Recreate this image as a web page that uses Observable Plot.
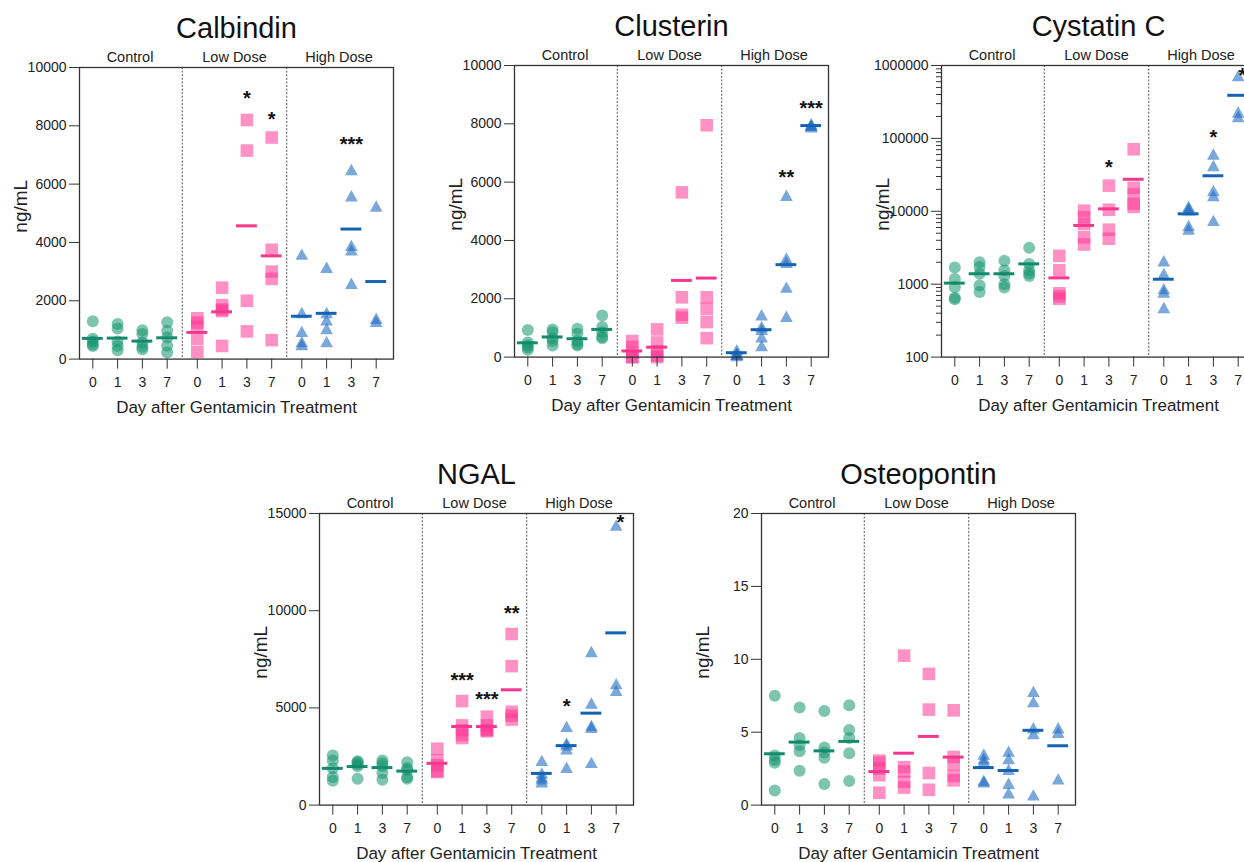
<!DOCTYPE html>
<html>
<head>
<meta charset="utf-8">
<script src="https://cdn.jsdelivr.net/npm/d3@7"></script>
<script src="https://cdn.jsdelivr.net/npm/@observablehq/plot@0.6"></script>
<style>
  html, body { margin: 0; padding: 0; background: #fff; }
  body { width: 1244px; height: 862px; overflow: hidden; position: relative; font-family: "Liberation Sans", Arial, sans-serif; }
  svg { position: absolute; overflow: visible; }
</style>
</head>
<body>
<script>
// ---------- categories ----------
const groups = ["Control", "Low Dose", "High Dose"];
const days = [0, 1, 3, 7];
const xTitle = "Day after Gentamicin Treatment";
const yTitle = "ng/mL";

// ---------- values: 12 lists, order Control d0,d1,d3,d7 | Low d0..d7 | High d0..d7 ----------
const calbindinValues = [
  [1300, 700, 600, 500, 450], [1200, 1050, 600, 450, 300], [990, 860, 570, 420, 340], [1260, 970, 740, 460, 230],
  [1400, 1250, 1100, 700, 250], [2450, 1850, 1700, 1650, 450], [8200, 7150, 2000, 950], [7600, 3750, 3000, 2750, 650],
  [3600, 1600, 950, 600, 500], [3150, 1600, 1350, 1050, 600], [6500, 5600, 3900, 3750, 2600], [5250, 1400, 1300]
];
const calbindinMeans = [710, 720, 617, 730, 915, 1620, 4570, 3540, 1470, 1570, 4460, 2660];
const calbindinStars = [
  {group: "Low Dose", day: 3, value: 9090, label: "*"},
  {group: "Low Dose", day: 7, value: 8380, label: "*"},
  {group: "High Dose", day: 3, value: 7520, label: "***"}
];
const calbindinTicks = [0, 2000, 4000, 6000, 8000, 10000];

const clusterinValues = [
  [930, 500, 400, 330, 250], [950, 850, 650, 550, 400], [970, 800, 550, 450, 400], [1430, 1030, 860, 700, 650],
  [550, 350, 150, 0, 0], [950, 500, 200, 50, 0], [5650, 2050, 1450, 1350], [7950, 2050, 1650, 1200, 650],
  [250, 150, 100, 100, 50], [1450, 1050, 950, 700, 400], [5550, 3400, 3250, 2400, 1400], [8000, 7950, 7950, 7900]
];
const clusterinMeans = [490, 690, 630, 950, 210, 340, 2630, 2710, 150, 940, 3170, 7940];
const clusterinStars = [
  {group: "High Dose", day: 3, value: 6340, label: "**"},
  {group: "High Dose", day: 7, value: 8690, label: "***"}
];
const clusterinTicks = [0, 2000, 4000, 6000, 8000, 10000];

const cystatinValues = [
  [1700, 1180, 910, 650, 620], [2000, 1720, 1390, 960, 780], [2100, 1550, 1300, 1000, 900], [3150, 1900, 1550, 1400, 1300],
  [2450, 1550, 750, 680, 630], [10200, 8300, 6700, 4400, 3500], [22500, 10500, 5600, 4200], [71000, 21000, 17000, 12700, 11500],
  [2100, 1400, 870, 780, 480], [11700, 11000, 10500, 6400, 5700], [61000, 42500, 19300, 16500, 7500], [730000, 230000, 200000]
];
const cystatinMeans = [1035, 1390, 1390, 1900, 1220, 6400, 10800, 27500, 1170, 9230, 30700, 390000];
const cystatinStars = [
  {group: "Low Dose", day: 3, value: 47200, label: "*"},
  {group: "High Dose", day: 3, value: 122000, label: "*"},
  {group: "High Dose", day: 7, value: 850000, label: "*", beside: true}
];
const cystatinTicks = [100, 1000, 10000, 100000, 1000000];

const ngalValues = [
  [2550, 2300, 1900, 1450, 1250], [2250, 2200, 2100, 2000, 1350], [2300, 2150, 2000, 1650, 1300], [2200, 1900, 1800, 1450, 1350],
  [2900, 2300, 2050, 1750, 1700], [5350, 4100, 3850, 3600, 3450], [4550, 4100, 3900, 3850, 3800], [8800, 7150, 4800, 4600, 4400],
  [2300, 1650, 1450, 1350, 1200], [4050, 3200, 3100, 2900, 1950], [7900, 5250, 4100, 4000, 2200], [14400, 6250, 5900]
];
const ngalMeans = [1890, 1980, 1930, 1750, 2150, 4040, 4040, 5930, 1630, 3060, 4730, 8860];
const ngalStars = [
  {group: "Low Dose", day: 1, value: 6680, label: "***"},
  {group: "Low Dose", day: 3, value: 5710, label: "***"},
  {group: "Low Dose", day: 7, value: 10110, label: "**"},
  {group: "High Dose", day: 1, value: 5300, label: "*"},
  {group: "High Dose", day: 7, value: 14800, label: "*", beside: true}
];
const ngalTicks = [0, 5000, 10000, 15000];

const osteopontinValues = [
  [7.5, 3.4, 3.1, 2.9, 1.0], [6.7, 4.6, 4.1, 3.7, 2.35], [6.45, 3.95, 3.6, 3.25, 1.45], [6.85, 5.15, 4.6, 3.55, 1.65],
  [3.05, 2.9, 2.5, 2.05, 0.85], [10.25, 2.6, 2.3, 1.6, 1.2], [9.0, 6.55, 2.2, 1.05], [6.5, 3.3, 2.8, 2.0, 1.7],
  [3.5, 3.2, 3.0, 1.7, 1.6], [3.7, 3.2, 2.45, 1.5, 0.85], [7.8, 7.1, 5.3, 4.9, 0.7], [5.3, 5.0, 1.8]
];
const osteopontinMeans = [3.52, 4.32, 3.72, 4.37, 2.3, 3.56, 4.71, 3.29, 2.57, 2.37, 5.13, 4.07];
const osteopontinStars = [];
const osteopontinTicks = [0, 5, 10, 15, 20];

// ---------- styling ----------
const FONT = '"Liberation Sans", Arial, sans-serif';
const dotFill = ["rgb(20,150,112)", "rgb(255,55,150)", "rgb(35,110,195)"];
const dotOpacity = [0.55, 0.55, 0.6];
const meanStroke = ["#138a6c", "#f5388f", "#1463b3"];

const squareSym = {draw(ctx, size) { const r = Math.sqrt(size / Math.PI), h = r * 1.05; ctx.moveTo(-h, -h); ctx.lineTo(h, -h); ctx.lineTo(h, h); ctx.lineTo(-h, h); ctx.closePath(); }};
const triangleSym = {draw(ctx, size) { const r = Math.sqrt(size / Math.PI), w = r * 1.06, h = r * 0.95; ctx.moveTo(0, -h); ctx.lineTo(w, h); ctx.lineTo(-w, h); ctx.closePath(); }};
const symbols = ["circle", squareSym, triangleSym];

// layout (px)
const ML = 80, MR = 30, MT = 72, MB = 70;
const FW = 314, FH = 291.6;
const UNIT = 24.8;             // px per day slot
const GS = 104.5 / UNIT;       // group spacing in slots
const LP = 13.3 / UNIT;        // left padding
const slot = k => Math.floor(k / 4) * GS + (k % 4);
const XMAX = FW / UNIT - LP;

function makePanel(title, values, means, stars, ticks, yType, frameLeft, frameTop) {
  const rows = [];
  values.forEach((arr, k) => arr.forEach(v => rows.push({k, g: Math.floor(k / 4), v})));
  const meanRows = means.map((v, k) => ({k, g: Math.floor(k / 4), v}));
  const starRows = stars.map(s => ({k: groups.indexOf(s.group) * 4 + days.indexOf(s.day), ...s}));
  const tickSlots = d3.range(12).map(slot);
  const tickLabel = new Map(tickSlots.map((s, k) => [s, String(days[k % 4])]));
  const yDomain = [ticks[0], ticks[ticks.length - 1]];
  const yMid = yType === "log" ? Math.sqrt(yDomain[0] * yDomain[1]) : (yDomain[0] + yDomain[1]) / 2;
  const marks = [];

  // dividers
  marks.push(Plot.ruleX([1, 2], {x: g => g * GS - (GS - 3) / 2, stroke: "#555", strokeWidth: 1, strokeDasharray: "2,1.6"}));

  // points
  for (let g = 0; g < 3; g++) {
    marks.push(Plot.dot(rows.filter(d => d.g === g), {
      x: d => slot(d.k), y: "v", r: 6, symbol: symbols[g],
      fill: dotFill[g], fillOpacity: dotOpacity[g], stroke: "none"
    }));
  }
  // means
  for (let g = 0; g < 3; g++) {
    marks.push(Plot.ruleY(meanRows.filter(d => d.g === g), {
      y: "v", x1: d => slot(d.k) - 0.42, x2: d => slot(d.k) + 0.42,
      stroke: meanStroke[g], strokeWidth: 3
    }));
  }
  // significance stars
  marks.push(Plot.text(starRows, {
    x: d => slot(d.k) + (d.beside ? 0.17 : 0), y: "value", text: "label",
    fontSize: 20, fontWeight: "bold", fill: "#111", dy: 5, lineAnchor: "middle"
  }));

  // frame
  marks.push(Plot.frame({stroke: "#333", strokeWidth: 1.3}));

  // y axis
  marks.push(Plot.axisY({ticks, tickSize: 10, tickPadding: 3, tickFormat: d3.format("d"), label: null, fontSize: 14, stroke: "#333", fill: "#222"}));
  if (yType === "log") {
    const minor = [];
    for (let e = 2; e < 6; e++) for (let m = 2; m <= 9; m++) minor.push(m * 10 ** e);
    marks.push(Plot.axisY({ticks: minor, tickSize: 5, tickFormat: () => "", label: null, stroke: "#333"}));
  }
  // x axis
  marks.push(Plot.axisX({ticks: tickSlots, tickSize: 10, tickPadding: 8, tickFormat: d => tickLabel.get(d), label: null, fontSize: 14, stroke: "#333", fill: "#222"}));

  // texts
  marks.push(Plot.text(groups, {x: (d, i) => i * GS + 1.5, frameAnchor: "top", lineAnchor: "bottom", dy: -5, fontSize: 14.5, fill: "#222"}));
  marks.push(Plot.text([title], {frameAnchor: "top", lineAnchor: "bottom", dy: -29, fontSize: 29, fill: "#111"}));
  marks.push(Plot.text([xTitle], {frameAnchor: "bottom", lineAnchor: "bottom", dy: 54, fontSize: 17, fill: "#222"}));
  marks.push(Plot.text([yTitle], {x: -LP, y: yMid, dx: -59, dy: -7, rotate: -90, textAnchor: "middle", lineAnchor: "middle", fontSize: 19, fill: "#222"}));

  const svg = Plot.plot({
    width: ML + FW + MR, height: MT + FH + MB,
    marginLeft: ML, marginRight: MR, marginTop: MT, marginBottom: MB,
    x: {type: "linear", domain: [-LP, XMAX], axis: null},
    y: {type: yType, domain: yDomain, axis: null},
    style: {fontFamily: FONT, fontSize: "14px", overflow: "visible", background: "transparent"},
    marks
  });
  svg.style.position = "absolute";
  svg.style.left = (frameLeft - ML) + "px";
  svg.style.top = (frameTop - MT) + "px";
  svg.style.maxWidth = "none";
  document.body.appendChild(svg);
}

makePanel("Calbindin", calbindinValues, calbindinMeans, calbindinStars, calbindinTicks, "linear", 79, 66.5);
makePanel("Clusterin", clusterinValues, clusterinMeans, clusterinStars, clusterinTicks, "linear", 514, 65.2);
makePanel("Cystatin C", cystatinValues, cystatinMeans, cystatinStars, cystatinTicks, "log", 940.7, 65.2);
makePanel("NGAL", ngalValues, ngalMeans, ngalStars, ngalTicks, "linear", 319.3, 512.8);
makePanel("Osteopontin", osteopontinValues, osteopontinMeans, osteopontinStars, osteopontinTicks, "linear", 761, 513.2);
</script>
</body>
</html>
